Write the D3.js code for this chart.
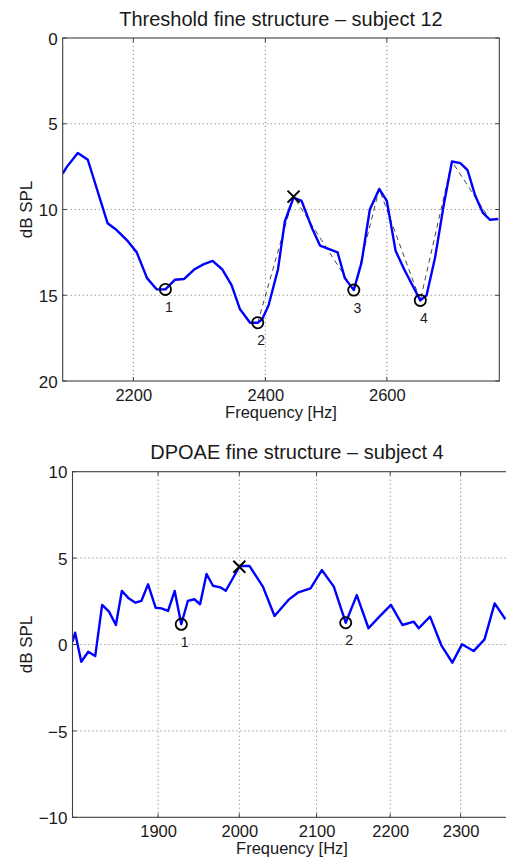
<!DOCTYPE html>
<html>
<head>
<meta charset="utf-8">
<script src="https://cdn.jsdelivr.net/npm/d3@7"></script>
<style>
html,body{margin:0;padding:0;background:#fff;overflow:hidden;}
svg{display:block;font-family:"Liberation Sans",Arial,Helvetica,sans-serif;}
</style>
</head>
<body>
<svg id="chart" width="506" height="858"></svg>
<script>
// ---- Data: threshold fine structure (subject 12) ----
const thrFreq = [2100,2106,2121,2135,2163,2176,2191,2205,2220,2234,2247,2261,2275,2290,2304,2318,2333,2347,2360,2376,2388,2395,2405,2420,2431,2445,2458,2475,2488,2502,2517,2529,2544,2557,2571,2587,2600,2615,2630,2644,2658,2669,2684,2699,2714,2729,2742,2756,2770,2783,2798];
const thrDb = [7.9,7.5,6.7,7.1,10.8,11.2,11.8,12.5,14.0,14.65,14.66,14.1,14.05,13.5,13.2,13.0,13.5,14.4,15.8,16.6,16.6,16.4,15.6,13.5,10.7,9.3,9.5,11.1,12.1,12.3,12.5,14.0,14.7,13.1,10.0,8.8,9.5,12.4,13.5,14.4,15.3,15.0,12.8,9.8,7.2,7.3,7.7,9.2,10.2,10.6,10.55];
const thrEnvFreq = [2388,2445,2544,2587,2658,2714,2783];
const thrEnvDb = [16.6,9.25,14.7,8.8,15.3,7.2,10.6];
const thrMinFreq = [2247,2388,2544,2658];
const thrMinDb = [14.66,16.6,14.7,15.3];
const thrMinLabels = ["1","2","3","4"];
const thrMaxFreq = [2445];
const thrMaxDb = [9.25];
const thrXTicks = [2200,2400,2600];
const thrYTicks = [0,5,10,15,20];

// ---- Data: DPOAE fine structure (subject 4) ----
const dpFreq = [1800,1803,1810,1818,1826,1834,1842,1850,1857,1865,1873,1880,1888,1897,1904,1912,1920,1928,1936,1944,1951,1959,1967,1976,1983,2000,2003,2013,2030,2045,2063,2076,2092,2107,2123,2139,2154,2170,2185,2201,2217,2233,2240,2256,2272,2288,2302,2319,2335,2350,2366];
const dpDb = [0.16,0.68,-1.0,-0.42,-0.67,2.29,1.9,1.13,3.1,2.67,2.42,2.52,3.48,2.13,2.09,1.94,3.1,1.17,2.52,2.62,2.33,4.08,3.4,3.31,3.11,4.5,4.54,4.54,3.35,1.65,2.58,3.02,3.25,4.31,3.35,1.26,2.86,0.94,1.61,2.29,1.13,1.32,0.94,1.61,-0.03,-1.05,0.01,-0.38,0.3,2.38,1.46];
const dpMinFreq = [1928,2139];
const dpMinDb = [1.17,1.26];
const dpMinLabels = ["1","2"];
const dpMaxFreq = [2000];
const dpMaxDb = [4.5];
const dpXTicks = [1900,2000,2100,2200,2300];
const dpYTicks = [-10,-5,0,5,10];

const svg = d3.select("#chart");
const fmt = v => String(v).replace("-", "\u2212");

function panel(cfg){
  const g = svg.append("g");
  const x = d3.scaleLog().domain(cfg.xDomain).range([cfg.left, cfg.right]);
  const y = d3.scaleLinear().domain(cfg.yDomain).range([cfg.top, cfg.bottom]);
  const clipId = "clip" + cfg.id;
  svg.append("defs").append("clipPath").attr("id", clipId)
    .append("rect").attr("x", cfg.left).attr("y", cfg.top)
    .attr("width", cfg.right - cfg.left).attr("height", cfg.bottom - cfg.top);

  // grid
  const grid = g.append("g").attr("stroke", "#6a6a6a").attr("stroke-width", 0.9)
    .attr("stroke-dasharray", "1,3").attr("fill", "none");
  cfg.xTicks.forEach(t => grid.append("line").attr("x1", x(t)).attr("x2", x(t))
    .attr("y1", cfg.top).attr("y2", cfg.bottom));
  cfg.yTicks.filter(t => y(t) > cfg.top + 1 && y(t) < cfg.bottom - 1)
    .forEach(t => grid.append("line").attr("y1", y(t)).attr("y2", y(t))
      .attr("x1", cfg.left).attr("x2", cfg.right));

  // axes via d3 axis generators (labels), custom ticks inward
  const xAxis = d3.axisBottom(x).tickValues(cfg.xTicks).tickFormat(d => d).tickSize(0).tickPadding(0);
  const xa = g.append("g").attr("transform", `translate(0,${cfg.bottom})`).call(xAxis);
  xa.select(".domain").remove();
  xa.selectAll("text").attr("dy", null).attr("y", 19.5).attr("font-size", 16.5)
    .attr("font-family", "Liberation Sans, Arial, sans-serif").attr("fill", "#1a1a1a");
  const yAxis = d3.axisLeft(y).tickValues(cfg.yTicks).tickFormat(fmt).tickSize(0).tickPadding(5);
  const ya = g.append("g").attr("transform", `translate(${cfg.left},0)`).call(yAxis);
  ya.select(".domain").remove();
  ya.selectAll("text").attr("font-size", 17).attr("dy", "0.36em")
    .attr("font-family", "Liberation Sans, Arial, sans-serif").attr("fill", "#1a1a1a");

  // tick marks (inward, all sides)
  const tk = g.append("g").attr("stroke", "#404040").attr("stroke-width", 1);
  const L = 4;
  cfg.xTicks.forEach(t => {
    tk.append("line").attr("x1", x(t)).attr("x2", x(t)).attr("y1", cfg.bottom).attr("y2", cfg.bottom - L);
    tk.append("line").attr("x1", x(t)).attr("x2", x(t)).attr("y1", cfg.top).attr("y2", cfg.top + L);
  });
  cfg.yTicks.forEach(t => {
    tk.append("line").attr("x1", cfg.left).attr("x2", cfg.left + L).attr("y1", y(t)).attr("y2", y(t));
    tk.append("line").attr("x1", cfg.right).attr("x2", cfg.right - L).attr("y1", y(t)).attr("y2", y(t));
  });

  const plot = g.append("g").attr("clip-path", `url(#${clipId})`);
  const line = d3.line().x(d => x(d[0])).y(d => y(d[1]));

  if (cfg.envF) {
    plot.append("path").datum(d3.zip(cfg.envF, cfg.envD)).attr("d", line)
      .attr("fill", "none").attr("stroke", "#333").attr("stroke-width", 0.9)
      .attr("stroke-dasharray", "5,4");
  }
  plot.append("path").datum(d3.zip(cfg.f, cfg.d)).attr("d", line)
    .attr("fill", "none").attr("stroke", "#0000ff").attr("stroke-width", 2.4)
    .attr("stroke-linejoin", "round");

  // frame
  g.append("rect").attr("x", cfg.left).attr("y", cfg.top)
    .attr("width", cfg.right - cfg.left).attr("height", cfg.bottom - cfg.top)
    .attr("fill", "none").attr("stroke", "#404040").attr("stroke-width", 1.1);

  // minima circles + labels
  const mins = d3.zip(cfg.minF, cfg.minD, cfg.minL);
  g.selectAll(null).data(mins).enter().append("circle")
    .attr("cx", d => x(d[0])).attr("cy", d => y(d[1])).attr("r", 5.6)
    .attr("fill", "none").attr("stroke", "#000").attr("stroke-width", 1.8);
  g.selectAll(null).data(mins).enter().append("text")
    .attr("x", d => x(d[0]) + 3.5).attr("y", d => y(d[1]) + 22.5)
    .attr("text-anchor", "middle").attr("font-size", 14).attr("fill", "#1a1a1a")
    .text(d => d[2]);
  // maxima crosses
  const maxs = d3.zip(cfg.maxF, cfg.maxD);
  const s = 6;
  maxs.forEach(d => {
    const cx = x(d[0]), cy = y(d[1]);
    g.append("path").attr("d", `M${cx-s},${cy-s}L${cx+s},${cy+s}M${cx-s},${cy+s}L${cx+s},${cy-s}`)
      .attr("stroke", "#000").attr("stroke-width", 2).attr("fill", "none");
  });

  // titles and labels
  g.append("text").attr("x", cfg.titleX).attr("y", cfg.top - 12.5)
    .attr("text-anchor", "middle").attr("font-size", 20).attr("fill", "#1a1a1a").text(cfg.title);
  g.append("text").attr("x", cfg.xLabelX).attr("y", cfg.bottom + 37)
    .attr("text-anchor", "middle").attr("font-size", 16.5).attr("fill", "#1a1a1a").text("Frequency [Hz]");
  g.append("text").attr("transform", `translate(31.5,${(cfg.top + cfg.bottom) / 2}) rotate(-90)`)
    .attr("text-anchor", "middle").attr("font-size", 17).attr("fill", "#1a1a1a").text("dB SPL");
}

panel({
  id: 1, left: 62.7, right: 499.3, top: 38, bottom: 381,
  xDomain: [2100, 2800], yDomain: [0, 20],
  xTicks: thrXTicks, yTicks: thrYTicks,
  f: thrFreq, d: thrDb, envF: thrEnvFreq, envD: thrEnvDb,
  minF: thrMinFreq, minD: thrMinDb, minL: thrMinLabels,
  maxF: thrMaxFreq, maxD: thrMaxDb,
  title: "Threshold fine structure \u2013 subject 12", titleX: 281, xLabelX: 281
});
panel({
  id: 2, left: 72.5, right: 528, top: 471.7, bottom: 817.3,
  xDomain: [1800, 2400], yDomain: [10, -10],
  xTicks: dpXTicks, yTicks: dpYTicks,
  f: dpFreq, d: dpDb, envF: null, envD: null,
  minF: dpMinFreq, minD: dpMinDb, minL: dpMinLabels,
  maxF: dpMaxFreq, maxD: dpMaxDb,
  title: "DPOAE fine structure \u2013 subject 4", titleX: 297, xLabelX: 292
});
</script>
</body>
</html>
